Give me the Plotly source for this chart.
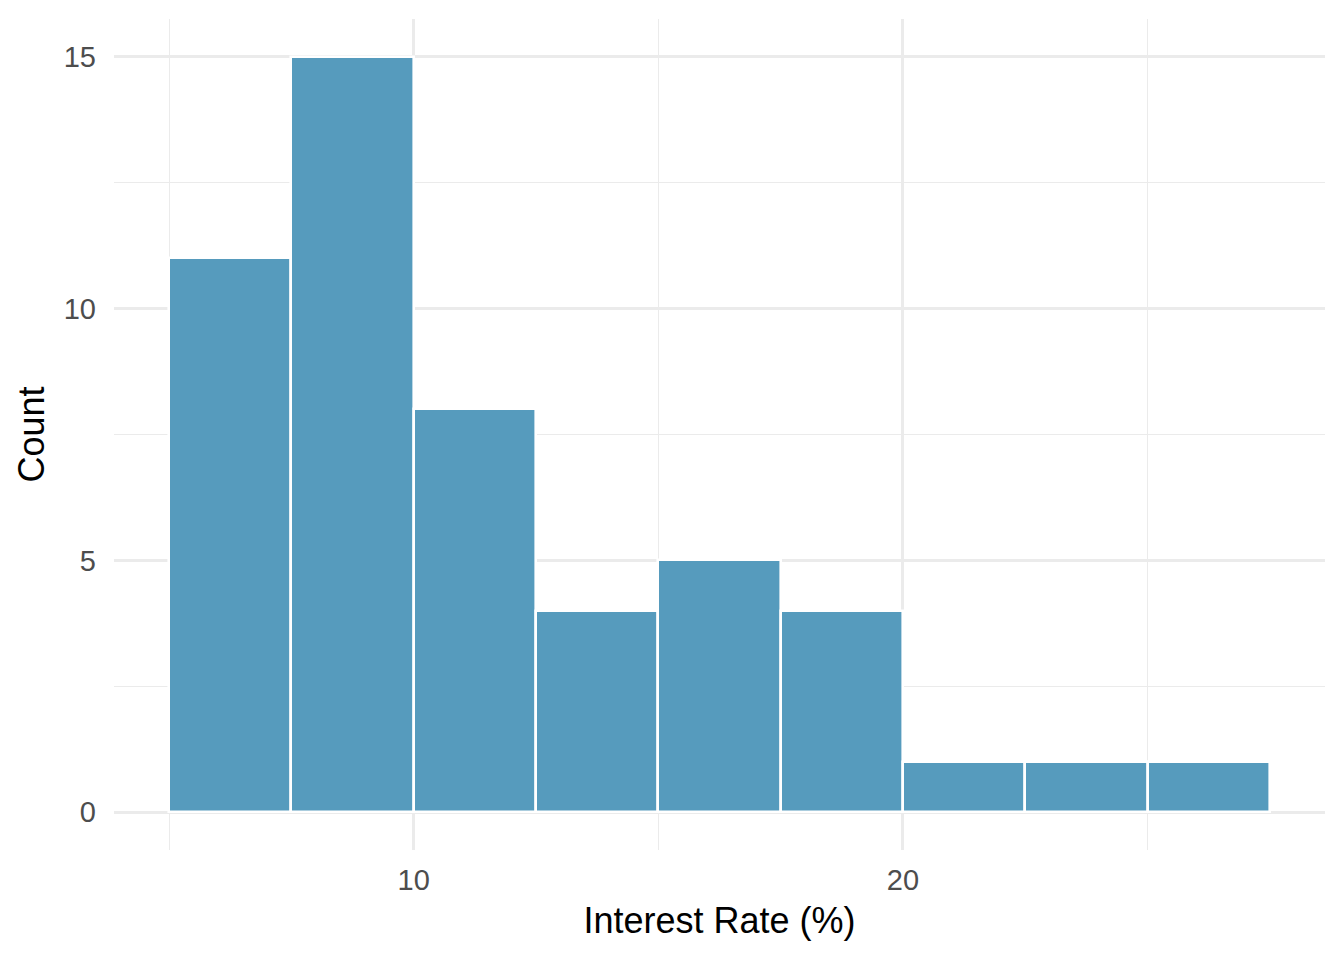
import plotly.graph_objects as go

# histogram bins (interest rate, %) and counts
bin_left = [5.0, 7.5, 10.0, 12.5, 15.0, 17.5, 20.0, 22.5, 25.0]
bin_width = 2.5
counts = [11, 15, 8, 4, 5, 4, 1, 1, 1]

x_ticks = [10, 20]
x_minor = [5, 15, 25]
y_ticks = [0, 5, 10, 15]
y_minor = [2.5, 7.5, 12.5]

centers = [b + bin_width / 2 for b in bin_left]

fig = go.Figure()
fig.add_bar(
    x=centers, y=counts, width=[bin_width] * len(centers),
    marker=dict(color="#569BBD", line=dict(color="white", width=2.6)),
    hoverinfo="x+y",
)

grid = "#EBEBEB"
# page body has an 8px margin, so the figure is 16px smaller than the window
fig.update_layout(
    width=1328, height=944,
    plot_bgcolor="white", paper_bgcolor="white",
    margin=dict(l=106, r=11, t=11, b=102),
    font=dict(family="Liberation Sans, Arial, sans-serif", color="#4D4D4D", size=29),
    showlegend=False,
    bargap=0,
    xaxis=dict(
        range=[3.875, 28.625], tickvals=x_ticks, showgrid=True,
        gridcolor=grid, gridwidth=2.6, zeroline=False, showline=False,
        ticks="", ticklabelstandoff=10, automargin=False,
        minor=dict(tickvals=x_minor, showgrid=True, gridcolor=grid, gridwidth=1.4),
        title=dict(text="Interest Rate (%)", font=dict(size=36, color="black"), standoff=12),
    ),
    yaxis=dict(
        range=[-0.75, 15.75], tickvals=y_ticks, showgrid=True,
        gridcolor=grid, gridwidth=2.6, zeroline=False, showline=False,
        ticks="", ticklabelstandoff=17, automargin=False,
        minor=dict(tickvals=y_minor, showgrid=True, gridcolor=grid, gridwidth=1.4),
        title=dict(text="Count", font=dict(size=36, color="black"), standoff=8),
    ),
)

fig.write_html("out.html")
